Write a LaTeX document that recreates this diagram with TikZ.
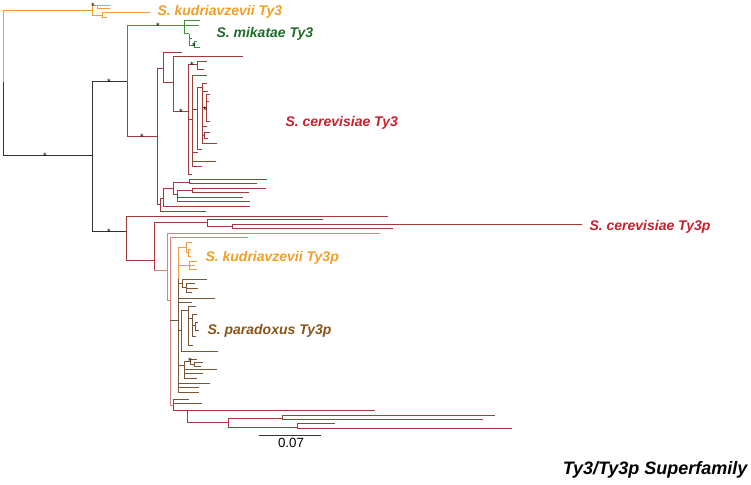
\documentclass[tikz,border=0pt]{standalone}
\usepackage{fontspec}
\setmainfont{Liberation Sans}
\usepackage{xcolor}
\usepackage{tikz}
\definecolor{rootgray}{HTML}{333333}
\definecolor{kudorange}{HTML}{F29A45}
\definecolor{mikgreen}{HTML}{3E9438}
\definecolor{cerred}{HTML}{A23A3A}
\definecolor{cerpink}{HTML}{D98080}
\definecolor{parbrown}{HTML}{7A5636}
\definecolor{labred}{HTML}{C8202A}
\definecolor{labgreen}{HTML}{1E6B2A}
\definecolor{laborange}{HTML}{F29E26}
\definecolor{labbrown}{HTML}{8A5418}

\begin{document}
\begin{tikzpicture}[x=0.75pt,y=-0.75pt,line width=0.75pt]
\tikzstyle{blk}=[draw=rootgray]
\tikzstyle{kud}=[draw=kudorange]
\tikzstyle{mik}=[draw=mikgreen]
\tikzstyle{cer}=[draw=cerred]
\tikzstyle{pnk}=[draw=cerpink]
\tikzstyle{par}=[draw=parbrown]
\tikzstyle{lab}=[anchor=west,inner sep=0pt,font=\fontsize{10.5}{12}\selectfont\bfseries\itshape]
\tikzstyle{boot}=[inner sep=0pt,font=\fontsize{7}{7}\selectfont,text=black]
\useasboundingbox (0,0) rectangle (751,485);

% root and backbone
\draw[kud] (3,82) -- (3,11) -- (92,11);
\draw[blk] (3,82) -- (3,156) -- (92,156);
\draw[blk] (92,82) -- (92,232) (92,82) -- (127,82) (92,232) -- (126,232);
\draw[mik] (127,82) -- (127,26) -- (184,26);
\draw[cer] (127,82) -- (127,137) -- (157,137);

% kudriavzevii Ty3
\draw[kud] (92,6) -- (92,16) (92,6) -- (110,6) (97,6) -- (97,9) -- (110,9)
  (92,16) -- (102,16) (102,13) -- (102,18) (102,13) -- (150,13) (102,18) -- (107,18);

% mikatae Ty3
\draw[mik] (184,21) -- (184,34) (184,21) -- (200,21) (184,26) -- (199,26)
  (184,34) -- (189,34) (189,34) -- (189,46) (189,39) -- (192,39) (189,46) -- (194,46)
  (194,42) -- (194,48) (194,42) -- (197,42) (194,48) -- (200,48);

% cerevisiae Ty3
\draw[cer] (157,69) -- (157,205) (157,69) -- (163,69) (163,53) -- (163,83) (163,53) -- (182,53)
  (163,83) -- (173,83) (173,57) -- (173,112) (173,57) -- (243,57) (173,112) -- (188,112)
  (188,65) -- (188,175) (188,65) -- (197,65) (197,62) -- (197,70) (197,62) -- (207,62) (197,70) -- (204,70)
  (188,120) -- (192,120) (188,175) -- (192,175) (192,76) -- (192,167) (192,110) -- (197,110)
  (197,88) -- (197,150) (197,150) -- (202,150) (197,88) -- (202,88) (202,84) -- (202,144)
  (202,108) -- (206,108) (206,95) -- (206,122) (202,136) -- (204,136) (204,133) -- (204,139);
\foreach \y/\e in {76/207,153/198,162/216,167/202}
  \draw[cer] (192,\y) -- (\e,\y);
\foreach \y/\e in {84/207,92/208,127/207,144/217}
  \draw[cer] (202,\y) -- (\e,\y);
\foreach \y/\e in {95/210,102/209,122/210}
  \draw[cer] (206,\y) -- (\e,\y);
\draw[cer] (204,133) -- (210,133) (204,139) -- (208,139);
\draw[cer] (157,205) -- (160,205) (160,199) -- (160,212) (160,212) -- (206,212) (160,199) -- (163,199)
  (163,189) -- (163,207) (163,207) -- (250,207) (163,189) -- (173,189)
  (173,183) -- (173,195) (173,183) -- (189,183) (189,180) -- (189,184) (189,180) -- (267,180) (189,184) -- (257,184)
  (173,195) -- (177,195) (177,191) -- (177,202) (177,191) -- (192,191)
  (192,189) -- (192,193) (192,189) -- (266,189) (192,193) -- (249,193) (177,198) -- (243,198) (177,202) -- (250,202);

% cerevisiae Ty3p
\draw[cer] (126,217) -- (126,260) (126,217) -- (388,217) (126,260) -- (154,260)
  (154,223) -- (154,270) (154,223) -- (207,223) (207,220) -- (207,227) (207,220) -- (323,220)
  (207,227) -- (232,227) (232,225) -- (232,229) (232,225) -- (582,225) (232,229) -- (393,229);
\draw[pnk] (154,270) -- (167,270) (167,234) -- (167,300) (167,234) -- (380,234) (167,300) -- (170,300)
  (170,238) -- (170,405) (170,238) -- (248,238) (170,405) -- (173,405);
\draw[cer] (173,399) -- (173,410) (173,410) -- (187,410) (187,410) -- (187,422) (187,410) -- (375,410)
  (187,422) -- (228,422) (228,418) -- (228,427) (228,418) -- (282,418)
  (282,415) -- (282,419) (282,415) -- (495,415) (282,419) -- (483,419)
  (228,427) -- (297,427) (297,423) -- (297,428) (297,423) -- (335,423) (297,428) -- (512,428);
\draw[par] (173,399) -- (189,399) (173,403) -- (202,403);

% kudriavzevii Ty3p
\draw[kud] (178,248) -- (178,279) (178,248) -- (186,248) (186,243) -- (186,253) (186,243) -- (192,243)
  (186,253) -- (188,253) (188,250) -- (188,256) (188,250) -- (191,250) (188,256) -- (191,256)
  (178,265) -- (189,265) (189,261) -- (189,269) (189,261) -- (197,261) (189,265) -- (195,265) (189,269) -- (197,269);

% paradoxus Ty3p
\draw[par] (178,279) -- (178,392) (170,320) -- (178,320)
  (178,283) -- (182,283) (182,279) -- (182,287) (182,279) -- (207,279) (182,287) -- (186,287)
  (186,283) -- (186,292) (186,283) -- (195,283) (186,288) -- (198,288) (186,292) -- (192,292)
  (178,298) -- (215,298) (178,302) -- (192,302)
  (178,330) -- (181,330) (181,310) -- (181,351) (181,310) -- (188,310) (181,351) -- (218,351)
  (188,306) -- (188,345) (188,306) -- (196,306) (188,318) -- (192,318) (188,345) -- (193,345)
  (192,314) -- (192,336) (192,314) -- (197,314) (192,325) -- (195,325) (192,336) -- (196,336)
  (195,322) -- (195,330) (195,322) -- (198,322) (195,330) -- (199,330)
  (178,365) -- (184,365) (184,361) -- (184,378) (184,361) -- (190,361)
  (190,359) -- (190,364) (190,359) -- (197,359) (190,364) -- (194,364)
  (194,362) -- (194,366) (194,362) -- (203,362) (194,366) -- (201,366)
  (184,369) -- (217,369) (184,373) -- (203,373) (184,378) -- (197,378)
  (178,383) -- (210,383) (178,387) -- (199,387) (178,392) -- (199,392);

% bootstrap marks
\node[boot] (b1) at (93,6) {*};
\node[boot] (b2) at (158,26) {*};
\node[boot] (b3) at (109,82) {*};
\node[boot] (b4) at (142,137) {*};
\node[boot] (b5) at (45,156) {*};
\node[boot] (b6) at (109,232) {*};
\node[boot] (b7) at (192,65) {*};
\node[boot] (b8) at (181,112) {*};
\node[boot] (b9) at (205,110) {*};
\node[boot] (b10) at (194,46) {*};
\node[boot] (b11) at (190,361) {*};

% clade labels
\node[lab,text=laborange] (kty3) at (157,12) {S. kudriavzevii Ty3};
\node[lab,text=labgreen] (mty3) at (216,34) {S. mikatae Ty3};
\node[lab,text=labred] (cty3) at (285,123) {S. cerevisiae Ty3};
\node[lab,text=labred] (cty3p) at (589,227) {S. cerevisiae Ty3p};
\node[lab,text=laborange] (kty3p) at (205,258) {S. kudriavzevii Ty3p};
\node[lab,text=labbrown] (pty3p) at (207,331) {S. paradoxus Ty3p};

% scale bar and title
\draw[blk] (259,435) -- (321,435);
\node[font=\fontsize{10}{12}\selectfont] (scale) at (291,443) {0.07};
\node[anchor=east,inner sep=0pt,font=\fontsize{13.5}{15}\selectfont\bfseries\itshape] (title) at (748,470) {Ty3/Ty3p Superfamily};
\end{tikzpicture}
\end{document}
